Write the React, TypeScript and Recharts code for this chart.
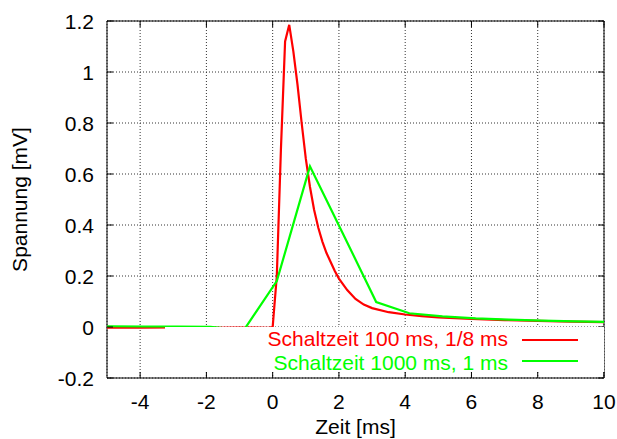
import { CartesianGrid, Legend, Line, LineChart, ReferenceArea, XAxis, YAxis } from 'recharts';

// tick labels
const timeTicks = [-4, -2, 0, 2, 4, 6, 8, 10];
const voltTicks = [-0.2, 0, 0.2, 0.4, 0.6, 0.8, 1, 1.2];

// Schaltzeit 100 ms, sampled every 1/8 ms around the pulse
const fastTime = [-5, -4, -3, -2, -1, -0.125, 0, 0.125, 0.25, 0.375, 0.5, 0.625, 0.75, 0.875, 1, 1.125, 1.25, 1.375, 1.5, 1.625, 1.75, 1.875, 2, 2.25, 2.5, 2.75, 3, 3.5, 4, 4.5, 5, 6, 7, 8, 9, 10];
const fastVolt = [-0.003, -0.003, -0.002, -0.003, -0.002, -0.003, 0, 0.2, 0.7, 1.12, 1.185, 1.08, 0.95, 0.8, 0.66, 0.55, 0.46, 0.39, 0.335, 0.29, 0.255, 0.22, 0.19, 0.145, 0.11, 0.088, 0.074, 0.058, 0.049, 0.043, 0.038, 0.032, 0.027, 0.024, 0.021, 0.019];

// Schaltzeit 1000 ms, sampled every 1 ms
const slowTime = [-5.875, -4.875, -3.875, -2.875, -1.875, -0.875, 0.125, 1.125, 2.125, 3.125, 4.125, 5.125, 6.125, 7.125, 8.125, 9.125, 10.125];
const slowVolt = [0.003, 0.003, 0.002, 0.002, 0.001, -0.013, 0.18, 0.63, 0.365, 0.098, 0.054, 0.042, 0.034, 0.029, 0.025, 0.022, 0.02];

const seriesNames = ['Schaltzeit 100 ms, 1/8 ms', 'Schaltzeit 1000 ms, 1 ms'];
const seriesColors = ['#ff0000', '#00ff00'];

const fastData = fastTime.map((t, i) => ({ t, v: fastVolt[i] }));
const slowData = slowTime.map((t, i) => ({ t, v: slowVolt[i] }));

const WIDTH = 617;
const HEIGHT = 439;
const PLOT = { left: 107, top: 21, right: 604, bottom: 378 };
const FONT = '"Liberation Sans", Arial, Helvetica, sans-serif';
const TICK_LEN = 6;

// legend box (opaque, like gnuplot "key opaque")
const KEY = { left: 165, top: 327, right: 604, bottom: 372, textRight: 508, sampleLeft: 521.7, sampleRight: 578.3 };
const keyTextCenters = [338.8, 362.3];
const keySampleCenters = [340, 361];
const KEY_LINE = 23.5;

function TimeTick({ x, payload }: any) {
  return (
    <g>
      <line x1={x} x2={x} y1={PLOT.bottom} y2={PLOT.bottom - TICK_LEN} stroke="#000" />
      <line x1={x} x2={x} y1={PLOT.top} y2={PLOT.top + TICK_LEN} stroke="#000" />
      <text x={x} y={PLOT.bottom + 31} textAnchor="middle" fontFamily={FONT} fontSize={21} fill="#000">
        {String(payload.value)}
      </text>
    </g>
  );
}

function VoltTick({ y, payload }: any) {
  return (
    <g>
      <line x1={PLOT.left} x2={PLOT.left + TICK_LEN} y1={y} y2={y} stroke="#000" />
      <line x1={PLOT.right} x2={PLOT.right - TICK_LEN} y1={y} y2={y} stroke="#000" />
      <text x={PLOT.left - 13} y={y + 7.5} textAnchor="end" fontFamily={FONT} fontSize={21} fill="#000">
        {String(payload.value)}
      </text>
    </g>
  );
}

function TimeTitle({ viewBox }: any) {
  return (
    <text x={viewBox.x + viewBox.width / 2} y={434} textAnchor="middle" fontFamily={FONT} fontSize={21} fill="#000">
      Zeit [ms]
    </text>
  );
}

function VoltTitle() {
  const cx = 27;
  const cy = (PLOT.top + PLOT.bottom) / 2;
  return (
    <text x={cx} y={cy} transform={`rotate(-90, ${cx}, ${cy})`} textAnchor="middle" fontFamily={FONT} fontSize={21} fill="#000">
      Spannung [mV]
    </text>
  );
}

function KeyBox() {
  return (
    <div
      style={{
        position: 'relative',
        width: KEY.right - KEY.left,
        height: KEY.bottom - KEY.top,
        background: '#fff',
        fontFamily: FONT,
        fontSize: 21,
      }}
    >
      {seriesNames.map((name, i) => (
        <div key={name}>
          <div
            style={{
              position: 'absolute',
              right: KEY.right - KEY.textRight,
              top: keyTextCenters[i] - KEY.top - KEY_LINE / 2,
              height: KEY_LINE,
              lineHeight: `${KEY_LINE}px`,
              whiteSpace: 'nowrap',
              color: seriesColors[i],
            }}
          >
            {name}
          </div>
          <div
            style={{
              position: 'absolute',
              left: KEY.sampleLeft - KEY.left,
              width: KEY.sampleRight - KEY.sampleLeft,
              top: keySampleCenters[i] - KEY.top - 1,
              height: 2,
              background: seriesColors[i],
            }}
          />
        </div>
      ))}
    </div>
  );
}

export default function App() {
  return (
    <div style={{ position: 'absolute', left: 0, top: 0, width: WIDTH, height: HEIGHT, background: '#fff' }}>
      <LineChart
        width={WIDTH}
        height={HEIGHT}
        margin={{ top: PLOT.top, right: WIDTH - PLOT.right, left: 0, bottom: 0 }}
      >
        <CartesianGrid stroke="#333" strokeDasharray="1 2" />
        <XAxis
          dataKey="t"
          type="number"
          domain={[-5, 10]}
          ticks={timeTicks}
          interval={0}
          allowDataOverflow
          height={HEIGHT - PLOT.bottom}
          axisLine={false}
          tickLine={false}
          tickSize={0}
          tick={<TimeTick />}
          label={{ content: TimeTitle }}
        />
        <YAxis
          type="number"
          domain={[-0.2, 1.2]}
          ticks={voltTicks}
          interval={0}
          allowDataOverflow
          width={PLOT.left}
          axisLine={false}
          tickLine={false}
          tickSize={0}
          tick={<VoltTick />}
          label={{ content: VoltTitle }}
        />
        <Line
          data={fastData}
          dataKey="v"
          type="linear"
          stroke={seriesColors[0]}
          strokeWidth={2.2}
          dot={false}
          isAnimationActive={false}
        />
        <Line
          data={slowData}
          dataKey="v"
          type="linear"
          stroke={seriesColors[1]}
          strokeWidth={2.2}
          dot={false}
          isAnimationActive={false}
        />
        <ReferenceArea x1={-5} x2={10} y1={-0.2} y2={1.2} fill="none" stroke="#000" strokeWidth={1} ifOverflow="visible" />
        <Legend
          layout="vertical"
          align="center"
          verticalAlign="middle"
          wrapperStyle={{ left: KEY.left, top: KEY.top, width: KEY.right - KEY.left, height: KEY.bottom - KEY.top }}
          content={() => <KeyBox />}
        />
      </LineChart>
    </div>
  );
}
